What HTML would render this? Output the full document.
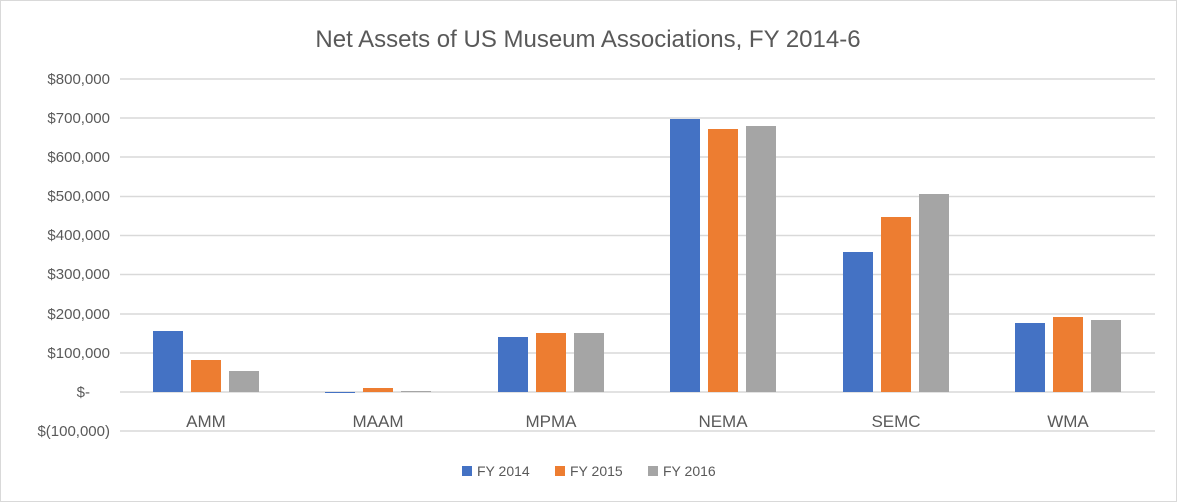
<!DOCTYPE html><html><head><style>body{margin:0;background:#fff}svg{display:block}text{font-family:"Liberation Sans",sans-serif}</style></head><body>
<svg width="1177" height="502" xmlns="http://www.w3.org/2000/svg">
<rect x="0.5" y="0.5" width="1176" height="501" fill="#fff" stroke="#d9d9d9"/>
<text x="588" y="47" font-size="24" fill="#595959" text-anchor="middle">Net Assets of US Museum Associations, FY 2014-6</text>
<g stroke="#d9d9d9" stroke-width="1.5">
<line x1="120" x2="1155" y1="79" y2="79"/><line x1="120" x2="1155" y1="118" y2="118"/><line x1="120" x2="1155" y1="157" y2="157"/><line x1="120" x2="1155" y1="196.5" y2="196.5"/><line x1="120" x2="1155" y1="235.5" y2="235.5"/><line x1="120" x2="1155" y1="274.5" y2="274.5"/><line x1="120" x2="1155" y1="314" y2="314"/><line x1="120" x2="1155" y1="353" y2="353"/><line x1="120" x2="1155" y1="392" y2="392"/><line x1="120" x2="1155" y1="431" y2="431"/>
</g>
<g font-size="15" fill="#595959" text-anchor="end">
<text x="110" y="84">$800,000</text><text x="110" y="123">$700,000</text><text x="110" y="162">$600,000</text><text x="110" y="201">$500,000</text><text x="110" y="240">$400,000</text><text x="110" y="279">$300,000</text><text x="110" y="319">$200,000</text><text x="110" y="358">$100,000</text><text x="90" y="397">$-</text><text x="110" y="436">$(100,000)</text>
</g>
<g>
<rect x="153" y="331" width="30" height="61" fill="#4472c4"/><rect x="191" y="360" width="30" height="32" fill="#ed7d31"/><rect x="229" y="371" width="30" height="21" fill="#a5a5a5"/>
<rect x="325" y="392" width="30" height="1" fill="#4472c4"/><rect x="363" y="388" width="30" height="4" fill="#ed7d31"/><rect x="401" y="391" width="30" height="1" fill="#a5a5a5"/>
<rect x="498" y="337" width="30" height="55" fill="#4472c4"/><rect x="536" y="333" width="30" height="59" fill="#ed7d31"/><rect x="574" y="333" width="30" height="59" fill="#a5a5a5"/>
<rect x="670" y="119" width="30" height="273" fill="#4472c4"/><rect x="708" y="129" width="30" height="263" fill="#ed7d31"/><rect x="746" y="126" width="30" height="266" fill="#a5a5a5"/>
<rect x="843" y="252" width="30" height="140" fill="#4472c4"/><rect x="881" y="217" width="30" height="175" fill="#ed7d31"/><rect x="919" y="194" width="30" height="198" fill="#a5a5a5"/>
<rect x="1015" y="323" width="30" height="69" fill="#4472c4"/><rect x="1053" y="317" width="30" height="75" fill="#ed7d31"/><rect x="1091" y="320" width="30" height="72" fill="#a5a5a5"/>
</g>
<g font-size="17" fill="#595959" text-anchor="middle">
<text x="206" y="427">AMM</text><text x="378" y="427">MAAM</text><text x="551" y="427">MPMA</text><text x="723" y="427">NEMA</text><text x="896" y="427">SEMC</text><text x="1068" y="427">WMA</text>
</g>
<g font-size="14" fill="#595959">
<rect x="462" y="466" width="10" height="10" fill="#4472c4"/><text x="477" y="476">FY 2014</text>
<rect x="555" y="466" width="10" height="10" fill="#ed7d31"/><text x="570" y="476">FY 2015</text>
<rect x="648" y="466" width="10" height="10" fill="#a5a5a5"/><text x="663" y="476">FY 2016</text>
</g>
</svg></body></html>
